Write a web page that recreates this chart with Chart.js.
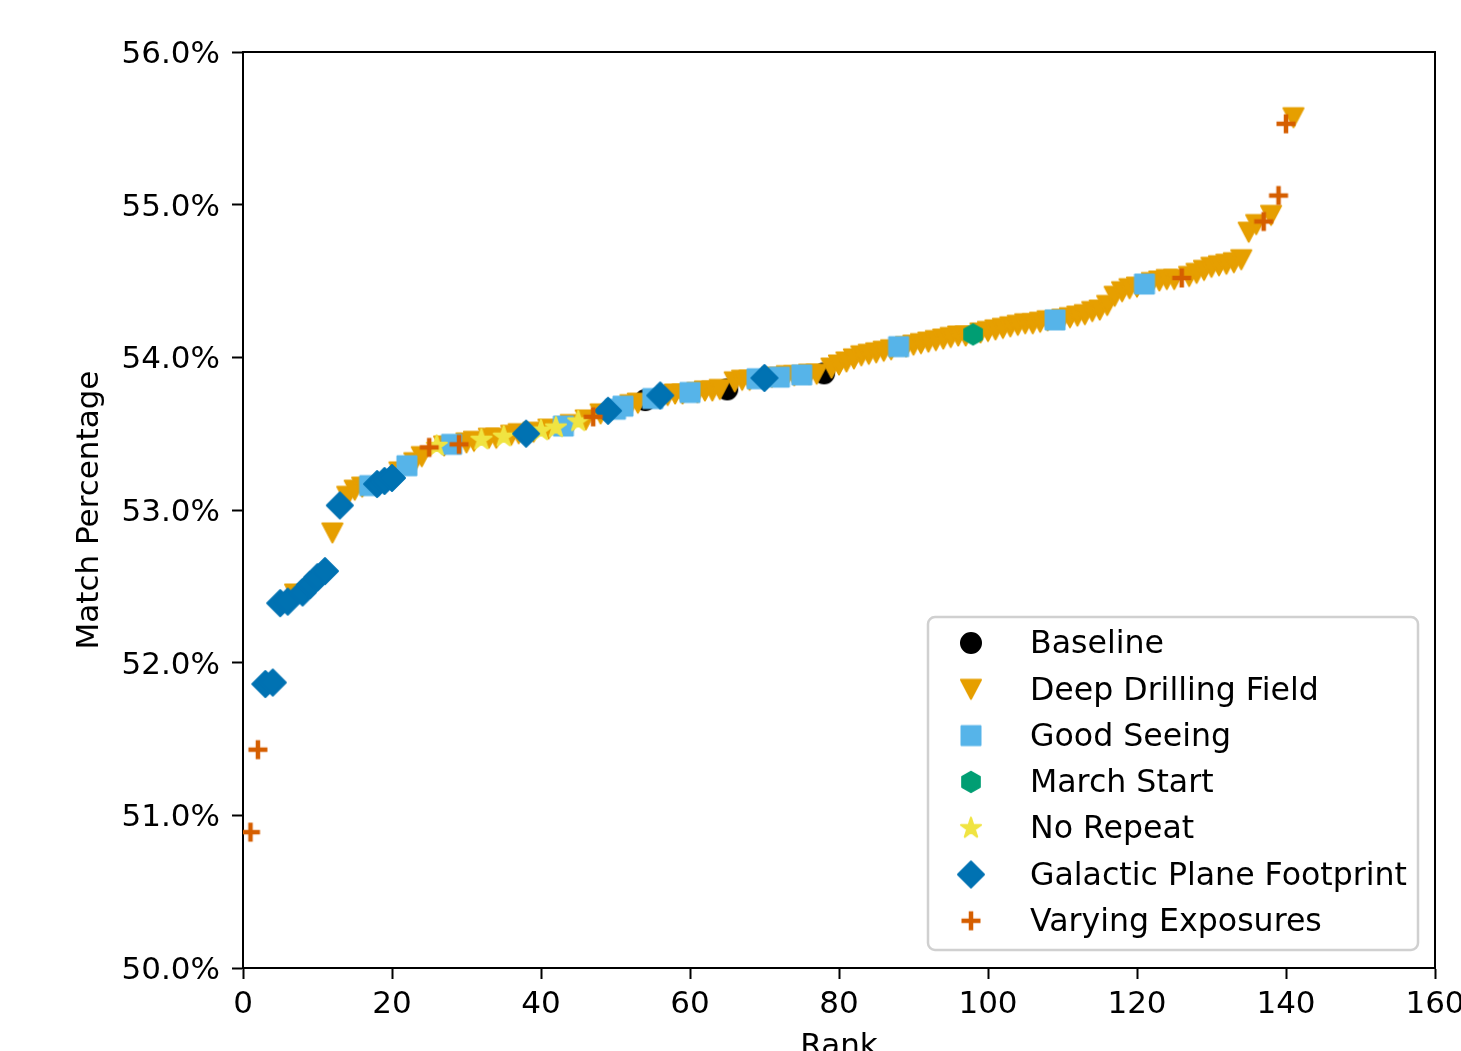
<!DOCTYPE html>
<html>
<head>
<meta charset="utf-8">
<title>Match Percentage by Rank</title>
<script src="https://cdn.jsdelivr.net/npm/chart.js@4/dist/chart.umd.min.js"></script>
<style>
    html, body { margin: 0; padding: 0; overflow: hidden; background: #fff; }
    .chart-wrap { width: 1500px; height: 1100px; position: relative; }
</style>
</head>
<body>
<div class="chart-wrap"><canvas id="rankChart"></canvas></div>
<script>
// values (rank -> match percentage)
const baselineRanks = [54, 65, 78];
const baselineValues = [53.72, 53.79, 53.895];

const deepDrillingRanks = [
    7, 12, 14, 15, 16, 21, 23, 24, 27, 30,
    31, 33, 34, 36, 37, 39, 41, 44, 46, 48,
    52, 53, 57, 58, 59, 61, 62, 63, 64, 66,
    67, 68, 71, 73, 74, 76, 77,
    79, 80, 81, 82, 83, 84, 85, 86, 87,
    89, 90, 91, 92, 93, 94, 95, 96, 97,
    99, 100, 101, 102, 103, 104, 105, 106, 107, 108,
    110, 111, 112, 113, 114, 115, 116, 117, 118, 119, 120,
    122, 123, 124, 125,
    127, 128, 129, 130, 131, 132, 133, 134, 135, 136,
    138, 141
];
const deepDrillingValues = [
    52.45, 52.85, 53.09, 53.13, 53.15, 53.25, 53.31, 53.35, 53.42, 53.44,
    53.45, 53.47, 53.47, 53.49, 53.50, 53.51, 53.53, 53.56, 53.59, 53.63,
    53.69, 53.70, 53.75, 53.76, 53.76, 53.77, 53.78, 53.78, 53.79, 53.84,
    53.85, 53.85, 53.87, 53.88, 53.88, 53.89, 53.89,
    53.93, 53.95, 53.97, 53.99, 54.01, 54.02, 54.03, 54.04, 54.05,
    54.07, 54.08, 54.09, 54.10, 54.11, 54.12, 54.13, 54.14, 54.14,
    54.16, 54.17, 54.18, 54.19, 54.20, 54.21, 54.22, 54.22, 54.23, 54.24,
    54.25, 54.26, 54.27, 54.28, 54.30, 54.31, 54.34, 54.40, 54.43, 54.45, 54.46,
    54.49, 54.50, 54.51, 54.51,
    54.53, 54.55, 54.57, 54.59, 54.60, 54.61, 54.62, 54.64, 54.82, 54.87,
    54.93, 55.57
];

const goodSeeingRanks = [17, 22, 28, 43, 50, 51, 55, 60, 69, 72, 75, 88, 109, 121];
const goodSeeingValues = [53.16, 53.29, 53.43, 53.55, 53.66, 53.68, 53.73, 53.77, 53.86, 53.87, 53.885, 54.07, 54.245, 54.48];

const marchStartRanks = [98];
const marchStartValues = [54.15];

const noRepeatRanks = [26, 32, 35, 40, 42, 45];
const noRepeatValues = [53.42, 53.46, 53.48, 53.52, 53.54, 53.58];

const galacticPlaneRanks = [3, 4, 5, 6, 8, 9, 10, 11, 13, 18, 19, 20, 38, 49, 56, 70];
const galacticPlaneValues = [51.86, 51.87, 52.39, 52.40, 52.46, 52.51, 52.56, 52.60, 53.03, 53.17, 53.19, 53.21, 53.50, 53.65, 53.75, 53.865];

const varyingExposureRanks = [1, 2, 25, 29, 47, 126, 137, 139, 140];
const varyingExposureValues = [50.89, 51.43, 53.41, 53.43, 53.61, 54.52, 54.89, 55.06, 55.53];

const seriesLabels = ['Baseline', 'Deep Drilling Field', 'Good Seeing', 'March Start', 'No Repeat', 'Galactic Plane Footprint', 'Varying Exposures'];
const xTicks = [0, 20, 40, 60, 80, 100, 120, 140, 160];
const yTicks = [50, 51, 52, 53, 54, 55, 56];
const yTickLabels = ['50.0%', '51.0%', '52.0%', '53.0%', '54.0%', '55.0%', '56.0%'];

// matplotlib-like marker glyphs, used as pointStyle images
function makeMarker(shape, color) {
    const size = 34;
    const c = size / 2;
    const cv = document.createElement('canvas');
    cv.width = size;
    cv.height = size;
    const g = cv.getContext('2d');
    g.fillStyle = color;
    g.strokeStyle = color;
    g.lineJoin = 'round';
    g.lineWidth = 2;
    g.beginPath();
    if (shape === 'circle') {
        g.arc(c, c, 10, 0, Math.PI * 2);
    } else if (shape === 'triangleDown') {
        g.moveTo(c - 10, c - 9.5);
        g.lineTo(c + 10, c - 9.5);
        g.lineTo(c, c + 9.5);
        g.closePath();
    } else if (shape === 'square') {
        g.rect(c - 9.5, c - 9.5, 19, 19);
    } else if (shape === 'hexagon') {
        for (let k = 0; k < 6; k++) {
            const a = -Math.PI / 2 + k * Math.PI / 3;
            const px = c + Math.cos(a) * 10.2;
            const py = c + Math.sin(a) * 10.2;
            if (k === 0) g.moveTo(px, py); else g.lineTo(px, py);
        }
        g.closePath();
    } else if (shape === 'star') {
        for (let k = 0; k < 10; k++) {
            const r = k % 2 === 0 ? 10.6 : 10.6 * 0.381966;
            const a = -Math.PI / 2 + k * Math.PI / 5;
            const px = c + Math.cos(a) * r;
            const py = c + Math.sin(a) * r;
            if (k === 0) g.moveTo(px, py); else g.lineTo(px, py);
        }
        g.closePath();
    } else if (shape === 'diamond') {
        g.moveTo(c, c - 13);
        g.lineTo(c + 13, c);
        g.lineTo(c, c + 13);
        g.lineTo(c - 13, c);
        g.closePath();
    } else if (shape === 'plus') {
        g.lineWidth = 4.5;
        g.lineJoin = 'miter';
        g.moveTo(c - 9.5, c);
        g.lineTo(c + 9.5, c);
        g.moveTo(c, c - 9.5);
        g.lineTo(c, c + 9.5);
        g.stroke();
        return cv;
    }
    g.fill();
    g.stroke();
    return cv;
}

function toPoints(ranks, values) {
    return ranks.map((r, i) => ({ x: r, y: values[i] }));
}

const seriesData = [
    toPoints(baselineRanks, baselineValues),
    toPoints(deepDrillingRanks, deepDrillingValues),
    toPoints(goodSeeingRanks, goodSeeingValues),
    toPoints(marchStartRanks, marchStartValues),
    toPoints(noRepeatRanks, noRepeatValues),
    toPoints(galacticPlaneRanks, galacticPlaneValues),
    toPoints(varyingExposureRanks, varyingExposureValues)
];
const seriesColors = ['#000000', '#E69F00', '#56B4E9', '#009E73', '#F0E442', '#0072B2', '#D55E00'];
const seriesShapes = ['circle', 'triangleDown', 'square', 'hexagon', 'star', 'diamond', 'plus'];

// legend box in the lower right corner + top/right spines
const cornerLegend = {
    id: 'cornerLegend',
    afterDraw(chart) {
        const ctx = chart.ctx;
        const area = chart.chartArea;
        ctx.save();
        ctx.strokeStyle = '#000';
        ctx.lineWidth = 2;
        ctx.beginPath();
        ctx.moveTo(area.left, area.top);
        ctx.lineTo(area.right, area.top);
        ctx.lineTo(area.right, area.bottom);
        ctx.stroke();

        const boxW = 490;
        const boxH = 333;
        const left = area.right - 17 - boxW;
        const top = area.bottom - 18 - boxH;
        ctx.beginPath();
        ctx.roundRect(left, top, boxW, boxH, 7);
        ctx.fillStyle = 'rgba(255, 255, 255, 0.8)';
        ctx.fill();
        ctx.strokeStyle = '#d0d0d0';
        ctx.lineWidth = 2.5;
        ctx.stroke();

        ctx.font = '31.6px "DejaVu Sans"';
        ctx.fillStyle = '#000';
        ctx.textBaseline = 'middle';
        ctx.textAlign = 'left';
        chart.data.datasets.forEach((ds, i) => {
            const y = top + 26 + i * 46.3;
            const img = ds.pointStyle;
            ctx.drawImage(img, left + 43 - img.width / 2, y - img.height / 2);
            ctx.fillText(ds.label, left + 102, y + 2);
        });
        ctx.restore();
    }
};

Chart.defaults.font.family = "'DejaVu Sans'";
Chart.defaults.font.size = 31;
Chart.defaults.color = '#000';

const ctx = document.getElementById('rankChart').getContext('2d');
const rankChart = new Chart(ctx, {
    type: 'scatter',
    data: {
        datasets: seriesLabels.map((label, i) => ({
            label: label,
            data: seriesData[i],
            pointStyle: makeMarker(seriesShapes[i], seriesColors[i]),
            pointRadius: 11,
            backgroundColor: seriesColors[i],
            borderColor: seriesColors[i],
            order: seriesLabels.length - i
        }))
    },
    options: {
        responsive: true,
        maintainAspectRatio: false,
        animation: false,
        events: [],
        layout: {
            padding: { top: 52, right: 65, bottom: 0, left: 0 }
        },
        plugins: {
            legend: { display: false },
            tooltip: { enabled: false }
        },
        scales: {
            x: {
                type: 'linear',
                min: xTicks[0],
                max: xTicks[xTicks.length - 1],
                afterFit: function(scale) { scale.height = 132; },
                afterBuildTicks: function(scale) {
                    scale.ticks = xTicks.map(v => ({ value: v }));
                },
                grid: {
                    drawOnChartArea: false,
                    drawTicks: true,
                    tickLength: 11,
                    tickWidth: 2,
                    tickColor: '#000'
                },
                border: { display: true, color: '#000', width: 2 },
                ticks: {
                    color: '#000',
                    padding: 7,
                    maxRotation: 0,
                    autoSkip: false,
                    font: { size: 31 }
                },
                title: {
                    display: true,
                    text: 'Rank',
                    color: '#000',
                    font: { size: 31 },
                    padding: { top: 0, bottom: 34 }
                }
            },
            y: {
                type: 'linear',
                min: yTicks[0],
                max: yTicks[yTicks.length - 1],
                afterFit: function(scale) { scale.width = 243; },
                afterBuildTicks: function(scale) {
                    scale.ticks = yTicks.map(v => ({ value: v }));
                },
                grid: {
                    drawOnChartArea: false,
                    drawTicks: true,
                    tickLength: 11,
                    tickWidth: 2,
                    tickColor: '#000'
                },
                border: { display: true, color: '#000', width: 2 },
                ticks: {
                    color: '#000',
                    padding: 12,
                    labelOffset: 3,
                    autoSkip: false,
                    font: { size: 31 },
                    callback: function(value) {
                        const idx = yTicks.indexOf(value);
                        return idx >= 0 ? yTickLabels[idx] : '';
                    }
                },
                title: {
                    display: true,
                    text: 'Match Percentage',
                    color: '#000',
                    font: { size: 31 },
                    padding: { top: 71, bottom: 0 }
                }
            }
        }
    },
    plugins: [cornerLegend]
});
</script>
</body>
</html>
